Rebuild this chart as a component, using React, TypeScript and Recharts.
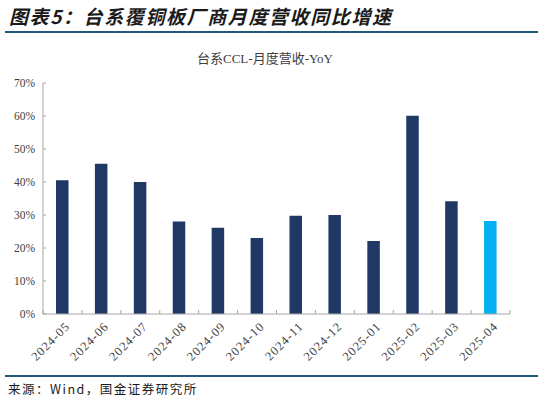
import { BarChart, Bar, XAxis, YAxis, Cell } from 'recharts';

const months = [
  '2024-05', '2024-06', '2024-07', '2024-08', '2024-09', '2024-10',
  '2024-11', '2024-12', '2025-01', '2025-02', '2025-03', '2025-04',
];
const yoy = [40.5, 45.5, 40.0, 28.0, 26.1, 23.0, 29.8, 30.0, 22.1, 60.1, 34.2, 28.2];
const yTicks = [0, 10, 20, 30, 40, 50, 60, 70];

const data = months.map((m, i) => ({ month: m, yoy: yoy[i] }));

const AXIS = '#a6a6a6';
const TEXT = '#404040';
const NAVY = '#1f3864';
const CYAN = '#00b0f0';
const RULE = '#22597a';
const SERIF = "'Liberation Serif', 'Noto Sans CJK SC', serif";

const BAND = (510 - 43) / months.length;

function YTick(props: any) {
  const { x, y, payload } = props;
  return (
    <g>
      <line x1={x + 8} x2={x + 11} y1={y} y2={y} stroke={AXIS} />
      <text x={x} y={y} dy="0.35em" textAnchor="end" fontSize={11.5} fill={TEXT} fontFamily={SERIF}>
        {`${payload.value}%`}
      </text>
    </g>
  );
}

function XTick(props: any) {
  const { x, y, payload, index } = props;
  const left = x - BAND / 2;
  return (
    <g>
      <line x1={left} x2={left} y1={y} y2={y - 4} stroke={AXIS} />
      {index === months.length - 1 && (
        <line x1={x + BAND / 2} x2={x + BAND / 2} y1={y} y2={y - 4} stroke={AXIS} />
      )}
      <text
        x={x + 5}
        y={y + 10}
        dy="0.35em"
        textAnchor="end"
        fontSize={12.5}
        letterSpacing={1}
        fill={TEXT}
        fontFamily={SERIF}
        transform={`rotate(-45, ${x + 5}, ${y + 10})`}
      >
        {payload.value}
      </text>
    </g>
  );
}

export default function App() {
  return (
    <div style={{ position: 'absolute', left: 0, top: 0, width: 541, height: 404, background: '#fff' }}>
      <div
        style={{
          position: 'absolute', left: 9, top: 2, fontSize: 19, fontWeight: 700, fontStyle: 'italic',
          letterSpacing: 1.6, color: '#1a1a1a', fontFamily: "'Noto Sans CJK SC', sans-serif", whiteSpace: 'nowrap',
        }}
      >
        图表5：台系覆铜板厂商月度营收同比增速
      </div>
      <div style={{ position: 'absolute', left: 5, top: 31, width: 533, height: 2, background: RULE }} />
      <div
        style={{
          position: 'absolute', left: 0, width: 530, top: 48, textAlign: 'center', fontSize: 13,
          color: TEXT, fontFamily: SERIF, whiteSpace: 'nowrap',
        }}
      >
        台系CCL-月度营收-YoY
      </div>
      <div style={{ position: 'absolute', left: 0, top: 0 }}>
        <BarChart width={541} height={404} data={data} margin={{ top: 83, right: 31, left: 0, bottom: 0 }}>
          <XAxis
            dataKey="month"
            interval={0}
            height={90}
            tickSize={0}
            tickMargin={0}
            tick={<XTick />}
            axisLine={{ stroke: AXIS }}
            tickLine={false}
          />
          <YAxis
            width={43}
            domain={[0, 70]}
            ticks={yTicks}
            interval={0}
            tickSize={0}
            tickMargin={8}
            tick={<YTick />}
            axisLine={{ stroke: AXIS }}
            tickLine={false}
          />
          <Bar dataKey="yoy" barSize={12.5} isAnimationActive={false}>
            {data.map((d, i) => (
              <Cell key={d.month} fill={i === data.length - 1 ? CYAN : NAVY} />
            ))}
          </Bar>
        </BarChart>
      </div>
      <div style={{ position: 'absolute', left: 5, top: 375, width: 533, height: 2, background: RULE }} />
      <div
        style={{
          position: 'absolute', left: 8, top: 379, fontSize: 12.5, letterSpacing: 1.5, color: '#1a1a1a',
          fontFamily: "'Noto Sans CJK SC', sans-serif", whiteSpace: 'nowrap',
        }}
      >
        来源：Wind，国金证券研究所
      </div>
    </div>
  );
}
